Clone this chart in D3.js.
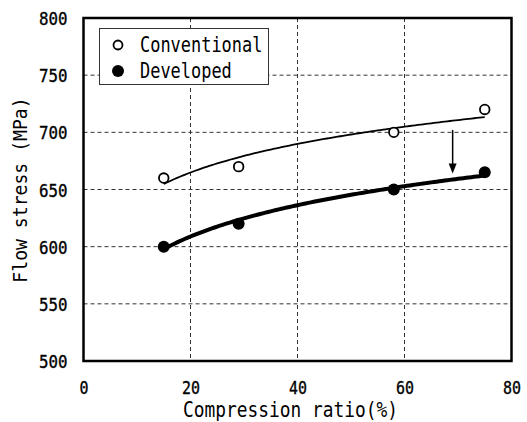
<!DOCTYPE html>
<html>
<head>
<meta charset="utf-8">
<script src="https://cdn.jsdelivr.net/npm/d3@7/dist/d3.min.js"></script>
<style>
  html, body { margin: 0; padding: 0; background: #fff; }
  svg { display: block; }
  text { font-family: "DejaVu Sans Mono", "Liberation Mono", monospace; fill: #000; }
</style>
</head>
<body>
<svg id="chart" width="527" height="422"></svg>
<script>
// Flow stress measured at each compression ratio
const compression = [15, 29, 58, 75];
const conventional = [660, 670, 700, 720];
const developed = [600, 620, 650, 665];

const seriesNames = ["Conventional", "Developed"];
const xTicks = [0, 20, 40, 60, 80];
const yTicks = [500, 550, 600, 650, 700, 750, 800];

// Arrow showing the drop in flow stress (x position, start and end stress)
const arrowX = 69;
const arrowFrom = 702;
const arrowTo = 664;

const svg = d3.select("#chart");
const x = d3.scaleLinear().domain([0, 80]).range([83.5, 511.5]);
const y = d3.scaleLinear().domain([500, 800]).range([361, 18]);

// Condensed monospaced text: fixed per-character advance
function label(sel, str, size, advance) {
  sel.text(str)
    .attr("font-size", size)
    .attr("textLength", str.length * advance)
    .attr("lengthAdjust", "spacingAndGlyphs");
  return sel;
}

// Dashed grid
const grid = svg.append("g")
  .attr("stroke", "#333")
  .attr("stroke-width", 1)
  .attr("stroke-dasharray", "4,3");
grid.selectAll("line.v")
  .data(xTicks.slice(1, -1))
  .join("line")
  .attr("class", "v")
  .attr("x1", d => x(d)).attr("x2", d => x(d))
  .attr("y1", y(800)).attr("y2", y(500));
grid.selectAll("line.h")
  .data(yTicks.slice(1, -1))
  .join("line")
  .attr("class", "h")
  .attr("x1", x(0)).attr("x2", x(80))
  .attr("y1", d => y(d)).attr("y2", d => y(d));

// Axes (labels only; frame drawn separately)
const yAxis = d3.axisLeft(y).tickValues(yTicks).tickSize(0).tickPadding(0).tickFormat(d3.format("d"));
const xAxis = d3.axisBottom(x).tickValues(xTicks).tickSize(0).tickPadding(0).tickFormat(d3.format("d"));

const gy = svg.append("g").attr("transform", `translate(${x(0)},0)`).call(yAxis);
gy.select(".domain").remove();
gy.selectAll(".tick text").each(function(d) {
  const t = d3.select(this);
  label(t, String(d), 17.5, 9.5)
    .attr("x", 67.5 - x(0))
    .attr("dy", null)
    .attr("y", 6.5)
    .attr("text-anchor", "end")
    .attr("font-family", "DejaVu Sans Mono")
    .style("fill", "#000")
    .style("stroke", "#000")
    .style("stroke-width", 0.35);
});

const gx = svg.append("g").attr("transform", `translate(0,${y(500)})`).call(xAxis);
gx.select(".domain").remove();
gx.selectAll(".tick text").each(function(d) {
  const t = d3.select(this);
  label(t, String(d), 17.5, 9)
    .attr("y", 32.5)
    .attr("dy", null)
    .attr("text-anchor", "middle")
    .attr("font-family", "DejaVu Sans Mono")
    .style("fill", "#000")
    .style("stroke", "#000")
    .style("stroke-width", 0.35);
});

// Power-law least-squares fit  (stress = a * ratio^b)
function powerFit(xs, ys) {
  const lx = xs.map(Math.log), ly = ys.map(Math.log);
  const mx = d3.mean(lx), my = d3.mean(ly);
  const b = d3.sum(lx, (v, i) => (v - mx) * (ly[i] - my)) / d3.sum(lx, v => (v - mx) * (v - mx));
  const a = Math.exp(my - b * mx);
  return v => a * Math.pow(v, b);
}

const samples = d3.range(compression[0], compression[compression.length - 1] + 0.001, 0.5);
const line = d3.line().x(d => x(d[0])).y(d => y(d[1])).curve(d3.curveLinear);

const fitConv = powerFit(compression, conventional);
const fitDev = powerFit(compression, developed);

svg.append("path")
  .attr("d", line(samples.map(v => [v, fitConv(v)])))
  .attr("fill", "none").attr("stroke", "#000").attr("stroke-width", 1.8);
svg.append("path")
  .attr("d", line(samples.map(v => [v, fitDev(v)])))
  .attr("fill", "none").attr("stroke", "#000").attr("stroke-width", 4);

// Markers
svg.append("g").selectAll("circle")
  .data(compression.map((c, i) => [c, conventional[i]]))
  .join("circle")
  .attr("cx", d => x(d[0])).attr("cy", d => y(d[1]))
  .attr("r", 4.8)
  .attr("fill", "#fff").attr("stroke", "#000").attr("stroke-width", 1.8);
svg.append("g").selectAll("circle")
  .data(compression.map((c, i) => [c, developed[i]]))
  .join("circle")
  .attr("cx", d => x(d[0])).attr("cy", d => y(d[1]))
  .attr("r", 6)
  .attr("fill", "#000");

// Arrow
const ax = x(arrowX), ay1 = y(arrowFrom), ay2 = y(arrowTo);
svg.append("line")
  .attr("x1", ax).attr("x2", ax)
  .attr("y1", ay1).attr("y2", ay2 - 8)
  .attr("stroke", "#000").attr("stroke-width", 1.5);
svg.append("path")
  .attr("d", `M${ax - 4},${ay2 - 10} L${ax + 4},${ay2 - 10} L${ax},${ay2} Z`)
  .attr("fill", "#000");

// Frame
svg.append("rect")
  .attr("x", x(0)).attr("y", y(800))
  .attr("width", x(80) - x(0)).attr("height", y(500) - y(800))
  .attr("fill", "none").attr("stroke", "#000").attr("stroke-width", 2.5);

// Legend
const lg = svg.append("g");
lg.append("rect")
  .attr("x", 99.5).attr("y", 28.5).attr("width", 169).attr("height", 56)
  .attr("fill", "#fff").attr("stroke", "#333").attr("stroke-width", 1);
lg.append("circle").attr("cx", 118).attr("cy", 45).attr("r", 4.5)
  .attr("fill", "#fff").attr("stroke", "#000").attr("stroke-width", 1.8);
lg.append("circle").attr("cx", 118).attr("cy", 71).attr("r", 6).attr("fill", "#000");
label(lg.append("text"), seriesNames[0], 20.5, 10.2).attr("x", 140).attr("y", 52);
label(lg.append("text"), seriesNames[1], 20.5, 10.2).attr("x", 140).attr("y", 78);

// Axis titles
label(svg.append("text"), "Compression ratio(%)", 20.5, 10.75)
  .attr("x", 290.5).attr("y", 416.5).attr("text-anchor", "middle");
label(svg.append("text"), "Flow stress (MPa)", 19, 10.9)
  .attr("transform", "translate(27,190) rotate(-90)")
  .attr("text-anchor", "middle");
</script>
</body>
</html>
